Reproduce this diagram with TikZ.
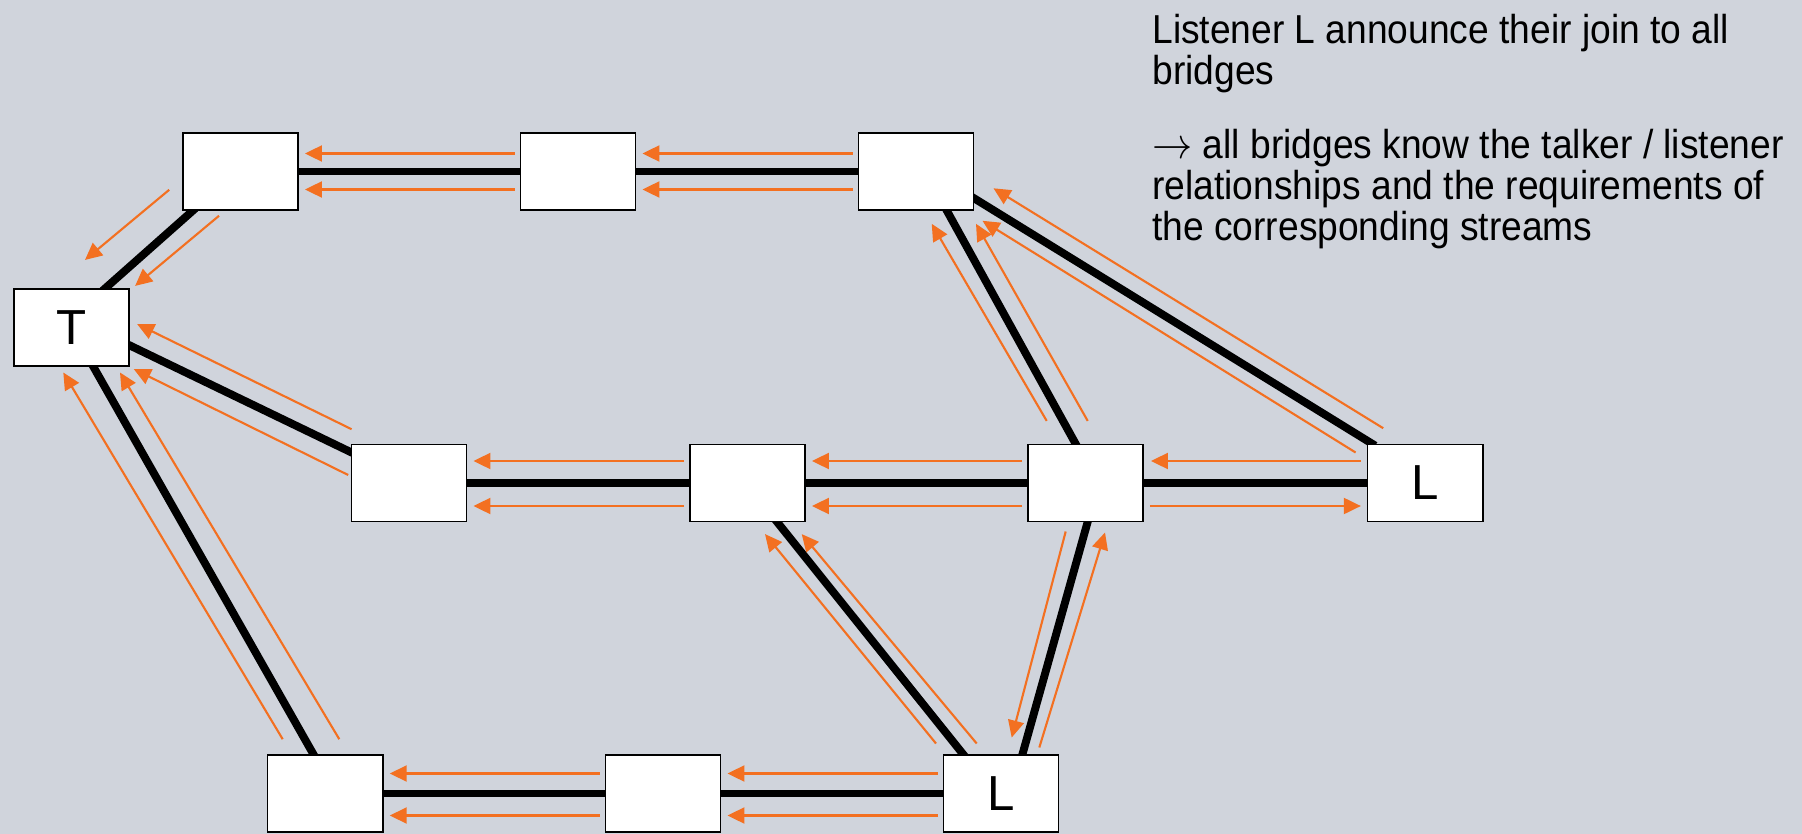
\documentclass[tikz,border=0pt]{standalone}
\usepackage{fontspec}
\setmainfont{Liberation Sans}
\usetikzlibrary{arrows.meta,backgrounds}
\definecolor{slide}{RGB}{208,212,220}
\definecolor{signal}{RGB}{243,112,33}
\tikzset{
  bridge/.style={draw=black,line width=0.9pt,fill=white,minimum width=23.06mm,minimum height=15.46mm,inner sep=0pt,font=\fontsize{28}{34}\selectfont},
  link/.style={line width=4.5pt,line cap=rect},
  flow/.style={-{Triangle[length=3.4mm,width=3.2mm]},signal,line width=1.2pt}
}

\begin{document}
\begin{tikzpicture}[x=0.2mm,y=-0.2mm]
\useasboundingbox (0,0) rectangle (1802,834);
% bridges, talker and listeners
\node[bridge] (B1) at (240.5,171.5) {};
\node[bridge] (B2) at (578,171.5) {};
\node[bridge] (B3) at (916,171.5) {};
\node[bridge] (T) at (71.5,327.5) {T};
\node[bridge] (M1) at (409,483) {};
\node[bridge] (M2) at (747.5,483) {};
\node[bridge] (M3) at (1085.5,483) {};
\node[bridge] (L1) at (1425.3,483) {L};
\node[bridge] (D1) at (325.3,793.5) {};
\node[bridge] (D2) at (663,793.5) {};
\node[bridge] (L2) at (1001,793.5) {L};

% cables behind the boxes
\begin{scope}[on background layer]
\fill[slide] (0,0) rectangle (1802,834);
\draw[link] (B1) -- (B2) -- (B3);
\draw[link] (M1) -- (M2) -- (M3) -- (L1);
\draw[link] (D1) -- (D2) -- (L2);
\draw[link] ([shift={(-48,0)}]B1.south) -- ([shift={(34,0)}]T.north);
\draw[link] ([shift={(0,18)}]T.east) -- ([shift={(0,-31)}]M1.west);
\draw[link] ([shift={(22,0)}]T.south) -- ([shift={(-12,0)}]D1.north);
\draw[link] ([shift={(31,0)}]B3.south) -- ([shift={(-10,0)}]M3.north);
\draw[link] ([shift={(0,27)}]B3.east) -- ([shift={(5,0)}]L1.north west);
\draw[link] ([shift={(30,0)}]M2.south) -- ([shift={(-38,0)}]L2.north);
\draw[link] ([shift={(2,0)}]M3.south) -- ([shift={(21.5,0)}]L2.north);
\end{scope}

% listener announcements, horizontal runs
\foreach \a/\b/\u/\d in {B2/B1/-18/18,B3/B2/-18/18,M2/M1/-22/23,M3/M2/-22/23,D2/D1/-20/22,L2/D2/-20/22}{
  \draw[flow] ([shift={(-5,\u)}]\a.west) -- ([shift={(6,\u)}]\b.east);
  \draw[flow] ([shift={(-5,\d)}]\a.west) -- ([shift={(6,\d)}]\b.east);
}
\draw[flow] ([shift={(-6,-22)}]L1.west) -- ([shift={(7,-22)}]M3.east);
\draw[flow] ([shift={(6,23)}]M3.east) -- ([shift={(-6,23)}]L1.west);

% slanted runs
\draw[flow] ([shift={(-12.85,-21.15)}]B1.south west) -- ([shift={(13.5,-28.15)}]T.north);
\draw[flow] ([shift={(-21.5,4.85)}]B1.south) -- ([shift={(5.15,-2.15)}]T.north east);
\draw[flow] ([shift={(1,-14.35)}]M1.north west) -- ([shift={(7.15,-3.5)}]T.east);
\draw[flow] ([shift={(-2.35,-8)}]M1.west) -- ([shift={(3.85,2.15)}]T.south east);
\draw[flow] ([shift={(-42.6,-14.85)}]D1.north) -- ([shift={(-8.2,5.55)}]T.south);
\draw[flow] ([shift={(14,-14.85)}]D1.north) -- ([shift={(48.5,5.55)}]T.south);
\draw[flow] ([shift={(-38.8,-22.65)}]M3.north) -- ([shift={(15.7,12.85)}]B3.south);
\draw[flow] ([shift={(2.2,-22.65)}]M3.north) -- ([shift={(60,12.85)}]B3.south);
\draw[flow] ([shift={(16.35,-15.35)}]L1.north west) -- ([shift={(19.05,16.8)}]B3.east);
\draw[flow] ([shift={(-11.25,8.95)}]L1.north west) -- ([shift={(8.05,9.85)}]B3.south east);
\draw[flow] ([shift={(-65,-10.55)}]L2.north) -- ([shift={(17.5,11.65)}]M2.south);
\draw[flow] ([shift={(-24.3,-10.55)}]L2.north) -- ([shift={(54.2,11.65)}]M2.south);
\draw[flow] ([shift={(-19.8,9.05)}]M3.south) -- ([shift={(10.7,-16.55)}]L2.north);
\draw[flow] ([shift={(38.3,-6.55)}]L2.north) -- ([shift={(19.5,10.05)}]M3.south);

% explanation
\node[anchor=north west,inner sep=0pt,align=left,font=\fontsize{23}{23.5}\selectfont,xscale=0.92,transform shape] (note) at (1152,14)
  {Listener L announce their join to all\\bridges\\[6.4mm]$\rightarrow$ all bridges know the talker / listener\\relationships and the requirements of\\the corresponding streams};
\end{tikzpicture}
\end{document}
